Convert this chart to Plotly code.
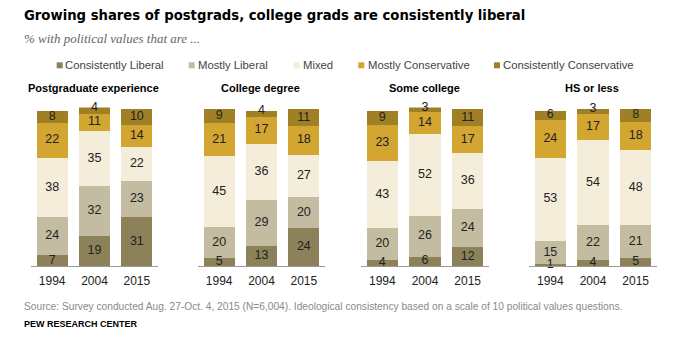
import plotly.graph_objects as go

# Education groups and survey years
groups = ["Postgraduate experience", "College degree", "Some college", "HS or less"]
years = ["1994", "2004", "2015"]

# Share (%) of each group by ideological consistency, per year
consistently_liberal = [[7, 19, 31], [5, 13, 24], [4, 6, 12], [1, 4, 5]]
mostly_liberal = [[24, 32, 23], [20, 29, 20], [20, 26, 24], [15, 22, 21]]
mixed = [[38, 35, 22], [45, 36, 27], [43, 52, 36], [53, 54, 48]]
mostly_conservative = [[22, 11, 14], [21, 17, 18], [23, 14, 17], [24, 17, 18]]
consistently_conservative = [[8, 4, 10], [9, 4, 11], [9, 3, 11], [6, 3, 8]]

series_names = ["Consistently Liberal", "Mostly Liberal", "Mixed",
                "Mostly Conservative", "Consistently Conservative"]
series_values = [consistently_liberal, mostly_liberal, mixed,
                 mostly_conservative, consistently_conservative]
series_colors = ["#8c8159", "#c3bca0", "#f4edd9", "#d3a531", "#a08025"]

W, H = 678, 341
SANS = "Liberation Sans, Arial, sans-serif"
NARROW = "Liberation Sans Narrow, DejaVu Sans Condensed, Arial Narrow, sans-serif"


def px(x):
    return x / W


def py(y):
    return 1 - y / H


# panel x extents (pixels) and shared vertical extent
panel_px = [(31, 158), (198, 325), (361, 489), (529, 657)]
y_bottom, y_top = 266, 107.4

fig = go.Figure()

for i, g in enumerate(groups):
    ax = "" if i == 0 else str(i + 1)
    xref, yref = "x" + ax, "y" + ax
    base = [0, 0, 0]
    label_x, label_y, label_t = [], [], []
    for s, (name, vals, col) in enumerate(zip(series_names, series_values, series_colors)):
        v = vals[i]
        fig.add_trace(go.Bar(
            x=years, y=v, name=name, marker=dict(color=col, line=dict(width=0)),
            width=0.73, xaxis=xref, yaxis=yref, showlegend=False,
            hoverinfo="x+y+name",
        ))
        for k in range(3):
            lo, hi = base[k], base[k] + v[k]
            if s == len(series_names) - 1 and v[k] < 5:
                yy = hi
            else:
                yy = (lo + hi) / 2
            label_x.append(years[k])
            label_y.append(yy)
            label_t.append(str(v[k]))
            base[k] = hi
    fig.add_trace(go.Scatter(
        x=label_x, y=label_y, text=label_t, mode="text",
        textposition="middle center", cliponaxis=False,
        textfont=dict(family=SANS, size=12.5, color="#222222"),
        xaxis=xref, yaxis=yref, showlegend=False, hoverinfo="skip",
    ))
    x0, x1 = panel_px[i]
    fig.layout["xaxis" + ax] = dict(
        domain=[px(x0), px(x1)], range=[-0.5, 2.5], type="category",
        showline=True, linecolor="#999999", linewidth=1, ticks="",
        ticklabelstandoff=4,
        showgrid=False, zeroline=False, anchor="y" + ax, fixedrange=True,
        tickfont=dict(family=SANS, size=12, color="#222222"),
    )
    fig.layout["yaxis" + ax] = dict(
        domain=[py(y_bottom), py(y_top)], range=[0, 101],
        visible=False, anchor="x" + ax, fixedrange=True,
    )
    # panel heading
    fig.add_annotation(
        x=px((x0 + x1) / 2 - 1), y=py(88), xref="paper", yref="paper",
        text=g, showarrow=False, xanchor="center", yanchor="middle",
        font=dict(family=SANS, size=11, color="#000000", weight="bold"),
    )

# legend built from squares and labels
legend_px = [(56.7, 63), (188.7, 196), (293.7, 301), (358.3, 365.7), (494, 501.3)]
for (sx, tx), name, col in zip(legend_px, series_names, series_colors):
    fig.add_shape(type="rect", xref="paper", yref="paper",
                  x0=px(sx), x1=px(sx + 6), y0=py(68.3), y1=py(62.3),
                  fillcolor=col, line=dict(width=0))
    fig.add_annotation(
        x=px(tx), y=py(65), xref="paper", yref="paper", text=name,
        showarrow=False, xanchor="left", yanchor="middle",
        font=dict(family=SANS, size=11.3, color="#444444"),
    )

# title, subtitle, notes
fig.add_annotation(
    x=px(22), y=py(15), xref="paper", yref="paper",
    text="Growing shares of postgrads, college grads are consistently liberal",
    showarrow=False, xanchor="left", yanchor="middle",
    font=dict(family=NARROW, size=14.7, color="#000000", weight="bold"),
)
fig.add_annotation(
    x=px(22), y=py(38), xref="paper", yref="paper",
    text="% with political values that are ...",
    showarrow=False, xanchor="left", yanchor="middle",
    font=dict(family="Liberation Serif, Georgia, serif", size=13, color="#666666", style="italic"),
)
fig.add_annotation(
    x=px(22), y=py(306), xref="paper", yref="paper",
    text="Source: Survey conducted Aug. 27-Oct. 4, 2015 (N=6,004). Ideological consistency "
         "based on a scale of 10 political values questions.",
    showarrow=False, xanchor="left", yanchor="middle",
    font=dict(family=SANS, size=10.2, color="#8a8a8a"),
)
fig.add_annotation(
    x=px(22), y=py(324), xref="paper", yref="paper",
    text="PEW RESEARCH CENTER",
    showarrow=False, xanchor="left", yanchor="middle",
    font=dict(family=SANS, size=9, color="#000000", weight="bold"),
)

fig.update_layout(
    width=W, height=H, margin=dict(l=0, r=0, t=0, b=0),
    barmode="stack", bargap=0.27,
    paper_bgcolor="#ffffff", plot_bgcolor="#ffffff",
    showlegend=False,
)

fig.write_html("out.html")
